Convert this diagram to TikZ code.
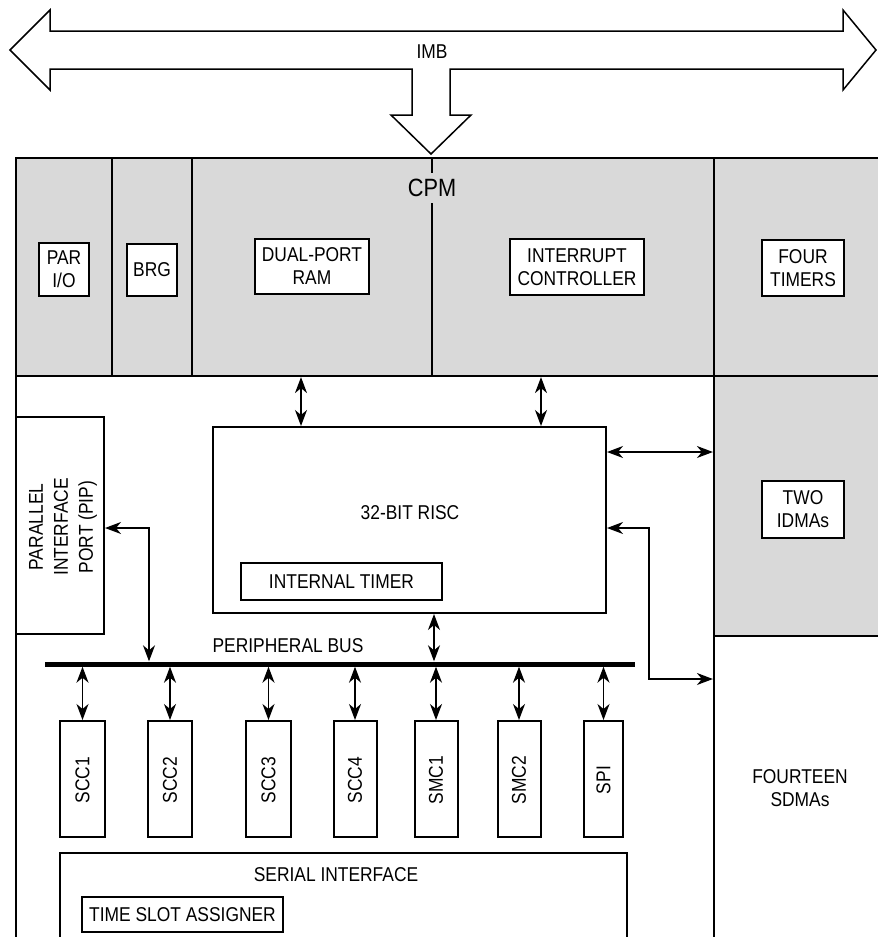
\documentclass[tikz,border=0pt]{standalone}
\usepackage{fontspec}
\setmainfont{Liberation Sans}[FakeStretch=0.87]
\usetikzlibrary{arrows.meta,fit,calc}
\definecolor{cpmgray}{RGB}{217,217,217}
\newcommand\dgfont{\fontsize{20}{23}\selectfont}
\newcommand\dgbig{\fontsize{25}{28}\selectfont}
\begin{document}
\begin{tikzpicture}[x=1pt,y=-1pt,
  mytip/.tip={Stealth[length=16pt,width=12pt,inset=5pt]},
  cell/.style={draw, line width=2.2pt, inner sep=0pt, fill=cpmgray},
  wcell/.style={draw, line width=2.2pt, inner sep=0pt, fill=white},
  blk/.style={draw, line width=1.3pt, fill=white, inner sep=0pt, align=center, font=\dgfont},
  bigblk/.style={draw, line width=2pt, fill=white, inner sep=0pt},
  txt/.style={inner sep=0pt, align=center, font=\dgfont},
  vtxt/.style={inner sep=0pt, align=center, font=\dgfont, rotate=90},
  dbl/.style={line width=1.4pt, mytip-mytip},
  bigarrow/.style={draw, line width=1.5pt, fill=white, line join=miter}
]
\useasboundingbox (0,0) rectangle (878,937);

% CPM cells
\node[wcell, fit={(16,376) (714,950)}] (core) {};
\node[cell, fit={(16,158) (112,376)}] (parcell) {};
\node[cell, fit={(112,158) (192,376)}] (brgcell) {};
\node[cell, fit={(192,158) (432,376)}] (dprcell) {};
\node[cell, fit={(432,158) (714,376)}] (intcell) {};
\node[cell, fit={(714,158) (890,376)}] (timcell) {};
\node[cell, fit={(714,376) (890,636)}] (idmacell) {};
\node[wcell, fit={(714,636) (890,950)}] (sdmacell) {};
\node[fill=cpmgray, inner xsep=1pt, inner ysep=0pt, minimum height=30pt, font=\dgbig] (cpm) at (432,188) {CPM};

% IMB arrow
\path[bigarrow] (10,50) -- (50,10) -- (50,31) -- (843,31) -- (843,10) -- (876,50)
  -- (843,90) -- (843,69) -- (450,69) -- (450,115) -- (471,115) -- (431,154)
  -- (391,115) -- (412,115) -- (412,69) -- (50,69) -- (50,90) -- cycle;
\node[txt] (imb) at (432,52) {IMB};

% top row blocks
\node[blk, minimum width=50pt, minimum height=53pt] (pario) at (64,269.5) {PAR\\I/O};
\node[blk, minimum width=50pt, minimum height=52pt] (brg) at (152,270) {BRG};
\node[blk, minimum width=114pt, minimum height=55pt] (dpr) at (312,266.5) {DUAL-PORT\\RAM};
\node[blk, minimum width=134pt, minimum height=56pt] (intc) at (577,267) {INTERRUPT\\CONTROLLER};
\node[blk, minimum width=82pt, minimum height=56pt] (ftim) at (803,268) {FOUR\\TIMERS};
\node[blk, minimum width=82pt, minimum height=57pt] (idma) at (803,509.5) {TWO\\IDMAs};

% PIP
\node[bigblk, minimum width=88pt, minimum height=217pt] (pip) at (60,525.5) {};
\node[vtxt, font={\fontsize{20}{25}\selectfont}] (piptext) at (63,527) {PARALLEL\\INTERFACE\\PORT (PIP)};

% RISC
\node[bigblk, minimum width=393pt, minimum height=186pt] (risc) at (409.5,520) {};
\node[txt] (risctext) at (410,513) {32-BIT RISC};
\node[blk, minimum width=201pt, minimum height=37pt] (itimer) at (341.5,581.5) {INTERNAL TIMER};

% peripheral bus
\node[fill=black, inner sep=0pt, minimum width=590pt, minimum height=5pt] (bus) at (340,664) {};
\node[txt] (buslabel) at (288,646) {PERIPHERAL BUS};

% serial channels
\foreach \nm/\cx/\w/\lab in {scc1/82.5/45/SCC1, scc2/170/44/SCC2, scc3/268.5/45/SCC3,
    scc4/355/43/SCC4, smc1/436/43/SMC1, smc2/519/43/SMC2, spi/603.5/39/SPI}{
  \node[bigblk, minimum width=\w pt, minimum height=116pt] (\nm) at (\cx,779) {};
  \node[vtxt] (\nm t) at (\cx,780) {\lab};
  \draw[dbl] (bus.south -| \nm.north) -- (\nm.north);
}

% serial interface
\node[wcell, line width=2pt, fit={(60,853) (627,950)}] (serial) {};
\node[txt] (sertext) at (336,875) {SERIAL INTERFACE};
\node[blk, minimum width=201pt, minimum height=35pt] (tsa) at (182.5,914.5) {TIME SLOT ASSIGNER};

% SDMAs
\node[txt] (sdmatext) at (800,788) {FOURTEEN\\SDMAs};

% helper coordinates
\coordinate (c301) at (301,0);
\coordinate (c541) at (541,0);
\coordinate (c434) at (434,0);
\coordinate (c149) at (149,0);
\coordinate (c649) at (649,0);
\coordinate (y452) at (0,452);
\coordinate (y528) at (0,528);
\coordinate (y679) at (0,679);

% connectors
\draw[dbl] (dprcell.south -| c301) -- (risc.north -| c301);
\draw[dbl] (intcell.south -| c541) -- (risc.north -| c541);
\draw[dbl] (risc.east |- y452) -- (idmacell.west |- y452);
\draw[dbl] (bus.north -| c149) |- (pip.east |- y528);
\draw[dbl] (risc.south -| c434) -- (bus.north -| c434);
\draw[dbl] (risc.east |- y528) -- (y528 -| c649) -- (y679 -| c649) -- (sdmacell.west |- y679);
\end{tikzpicture}
\end{document}
